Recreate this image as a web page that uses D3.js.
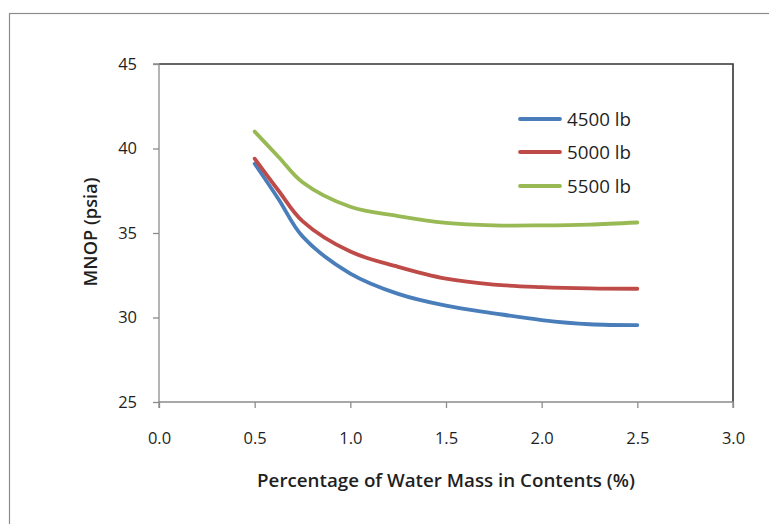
<!DOCTYPE html>
<html><head><meta charset="utf-8">
<script src="https://cdn.jsdelivr.net/npm/d3@7"></script>
<style>
html,body{margin:0;padding:0;background:#fff;}
svg text{font-family:"Open Sans",Lato,sans-serif;fill:#1f1f1f;}
</style></head>
<body>
<svg id="c" width="769" height="524"></svg>
<script>
const xValues = [0.5, 0.625, 0.75, 1.0, 1.25, 1.5, 1.75, 2.0, 2.25, 2.5];
const series4500 = [39.1, 37.0, 34.8, 32.6, 31.4, 30.7, 30.25, 29.85, 29.6, 29.55];
const series5000 = [39.4, 37.5, 35.7, 33.9, 33.0, 32.3, 31.95, 31.8, 31.72, 31.7];
const series5500 = [41.0, 39.5, 38.0, 36.55, 36.0, 35.6, 35.45, 35.45, 35.5, 35.62];
const seriesNames = ["4500 lb", "5000 lb", "5500 lb"];
const seriesColors = ["#4a7ebb", "#be4b48", "#98b954"];
const xTicks = [0, 0.5, 1.0, 1.5, 2.0, 2.5, 3.0];
const yTicks = [25, 30, 35, 40, 45];
const xTitle = "Percentage of Water Mass in Contents (%)";
const yTitle = "MNOP (psia)";

const svg = d3.select("#c");
const L = 159, R = 733, T = 64, B = 402;
const x = d3.scaleLinear().domain([0, 3]).range([L, R]);
const y = d3.scaleLinear().domain([25, 45]).range([B, T]);

function fit(sel, target) {
  const w = sel.node().getComputedTextLength();
  const fs = parseFloat(sel.attr("font-size"));
  sel.attr("font-size", (fs * target / w).toFixed(2));
}

// outer chart border
svg.append("rect").attr("x", 9.5).attr("y", 13.5).attr("width", 800).attr("height", 600)
  .attr("fill", "none").attr("stroke", "#8c8c8c").attr("stroke-width", 1.2);

// plot frame top/right
svg.append("path").attr("d", `M${L},${T}H${R}V${B}`).attr("fill", "none")
  .attr("stroke", "#333").attr("stroke-width", 1.6);

// axes
const xAxis = d3.axisBottom(x).tickValues(xTicks).tickFormat(d3.format(".1f")).tickSize(6).tickPadding(24);
const gx = svg.append("g").attr("transform", `translate(0,${B})`).call(xAxis);
const yAxis = d3.axisLeft(y).tickValues(yTicks).tickFormat(d3.format("d")).tickSize(6).tickPadding(16);
const gy = svg.append("g").attr("transform", `translate(${L},0)`).call(yAxis);
[gx, gy].forEach(g => {
  g.select(".domain").attr("stroke", "#8c8c8c").attr("stroke-width", 1.3);
  g.selectAll(".tick line").attr("stroke", "#8c8c8c").attr("stroke-width", 1.3);
  g.selectAll(".tick text").attr("font-size", 16.5).attr("font-family", "Open Sans").attr("fill", "#1f1f1f");
});
gy.select(".domain").attr("d", `M-6,${T}H0V${B}`);
gx.select(".domain").attr("d", `M${L},6V0H${R}V6`);

// lines
const data = [series4500, series5000, series5500];
const line = d3.line().x((d, i) => x(xValues[i])).y(d => y(d)).curve(d3.curveCatmullRom.alpha(0.5));
data.forEach((s, k) => {
  svg.append("path").datum(s).attr("d", line).attr("fill", "none")
    .attr("stroke", seriesColors[k]).attr("stroke-width", 3.8).attr("stroke-linecap", "round");
});

// legend
const legY = [119, 152, 186];
seriesNames.forEach((n, k) => {
  svg.append("line").attr("x1", 520).attr("x2", 560).attr("y1", legY[k]).attr("y2", legY[k])
    .attr("stroke", seriesColors[k]).attr("stroke-width", 3.8).attr("stroke-linecap", "round");
  const t = svg.append("text").attr("x", 567).attr("y", legY[k]).attr("dy", "0.36em")
    .attr("font-size", 17).text(n);
  fit(t, 64);
});

// axis titles
const xt = svg.append("text").attr("x", 446).attr("y", 487).attr("text-anchor", "middle")
  .attr("font-size", 17).attr("font-weight", 600).text(xTitle);
fit(xt, 378);
const yt = svg.append("text").attr("transform", "translate(97,232) rotate(-90)").attr("text-anchor", "middle")
  .attr("font-size", 17).attr("font-weight", 600).text(yTitle);
fit(yt, 109);
</script>
</body></html>
